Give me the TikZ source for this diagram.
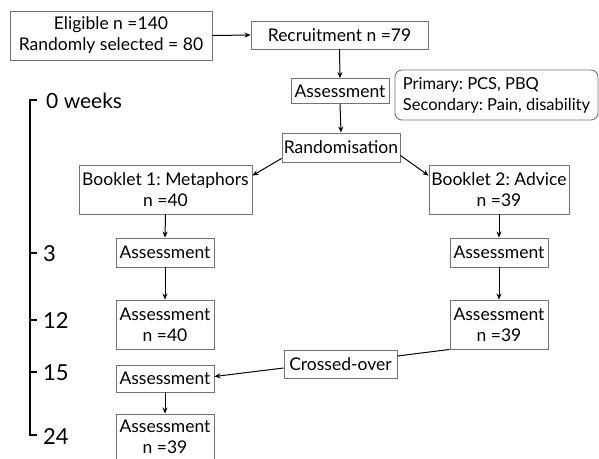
\documentclass[tikz,border=0pt]{standalone}
\usepackage{fontspec}
\setmainfont{Lato}
\usetikzlibrary{arrows.meta,calc}
\begin{document}
\frenchspacing
\begin{tikzpicture}[x=1pt,y=-1pt,
  box/.style={draw=black!55,line width=0.9pt,inner sep=0pt,align=center,font=\fontsize{17.5}{21}\selectfont},
  arr/.style={-{Stealth[length=6pt,width=5pt]},line width=1pt},
  ln/.style={line width=1pt},
  tl/.style={anchor=west,font=\fontsize{22}{24}\selectfont,inner sep=0pt}]
\useasboundingbox (0,0) rectangle (599,458);
\node[box,minimum width=202pt,minimum height=49pt] (elig) at (111,35.5) {Eligible n =140\\Randomly selected = 80};
\node[box,minimum width=177pt,minimum height=28pt] (recr) at (339.5,35) {Recruitment n =79};
\node[box,minimum width=98pt,minimum height=25pt] (ass0) at (340,91) {Assessment};
\node[box,rounded corners=7pt,minimum width=203pt,minimum height=50pt,align=left,font=\fontsize{16.5}{21}\selectfont] (prim) at (496.5,95) {Primary: PCS, PBQ\\Secondary: Pain, disability};
\node[box,minimum width=118pt,minimum height=29pt] (rand) at (341,147.5) {Randomisation};
\node[box,minimum width=173pt,minimum height=49pt] (b1) at (165.5,189.5) {Booklet 1: Metaphors\\n =40};
\node[box,minimum width=140pt,minimum height=49pt] (b2) at (499,189.5) {Booklet 2: Advice\\n =39};
\node[box,minimum width=98pt,minimum height=29pt] (a1c) at (165,252.5) {Assessment};
\node[box,minimum width=98pt,minimum height=29pt] (a2c) at (499,252.5) {Assessment};
\node[box,minimum width=98pt,minimum height=49pt] (a1d) at (165,324.5) {Assessment\\n =40};
\node[box,minimum width=98pt,minimum height=49pt] (a2d) at (499,324.5) {Assessment\\n =39};
\node[box,minimum width=113pt,minimum height=28pt] (cross) at (340.5,364) {Crossed-over};
\node[box,minimum width=98pt,minimum height=27pt] (a1e) at (165,378.5) {Assessment};
\node[box,minimum width=98pt,minimum height=46pt] (a1f) at (165,437) {Assessment\\n =39};
\draw[arr] (elig.east) -- (recr.west);
\draw[arr] (recr.south) -- (ass0.north);
\draw[arr] (ass0.south) -- (rand.north);
\draw[arr] ($(rand.south west)+(0,-4)$) -- ($(b1.north east)+(0,11)$);
\draw[arr] ($(rand.south east)+(0,-7)$) -- ($(b2.north west)+(0,11)$);
\draw[arr] (b1.south) -- (a1c.north);
\draw[arr] (b2.south) -- (a2c.north);
\draw[arr] (a1c.south) -- (a1d.north);
\draw[arr] (a2c.south) -- (a2d.north);
\draw[ln] (a2d.south west) -- ($(cross.east)+(0,-8)$);
\draw[arr] ($(cross.west)+(0,4)$) -- ($(a1e.east)+(0,-2)$);
\draw[arr] (a1e.south) -- (a1f.north);
% timeline
\coordinate (t0) at (30,100);
\coordinate (t24) at (30,435);
\draw[line width=1.4pt] ($(t0)+(7,0)$) -- (t0) -- (t24) -- ($(t24)+(7,0)$);
\draw[line width=1.4pt] (30,253) -- (37,253) (30,320) -- (37,320) (30,372) -- (37,372);
\node[tl,font=\fontsize{21}{24}\selectfont] (w0) at (46,101) {0 weeks};
\node[tl] (w3) at (43,254) {3};
\node[tl] (w12) at (43,321) {12};
\node[tl] (w15) at (43,373) {15};
\node[tl] (w24) at (43,437) {24};
\end{tikzpicture}
\end{document}
